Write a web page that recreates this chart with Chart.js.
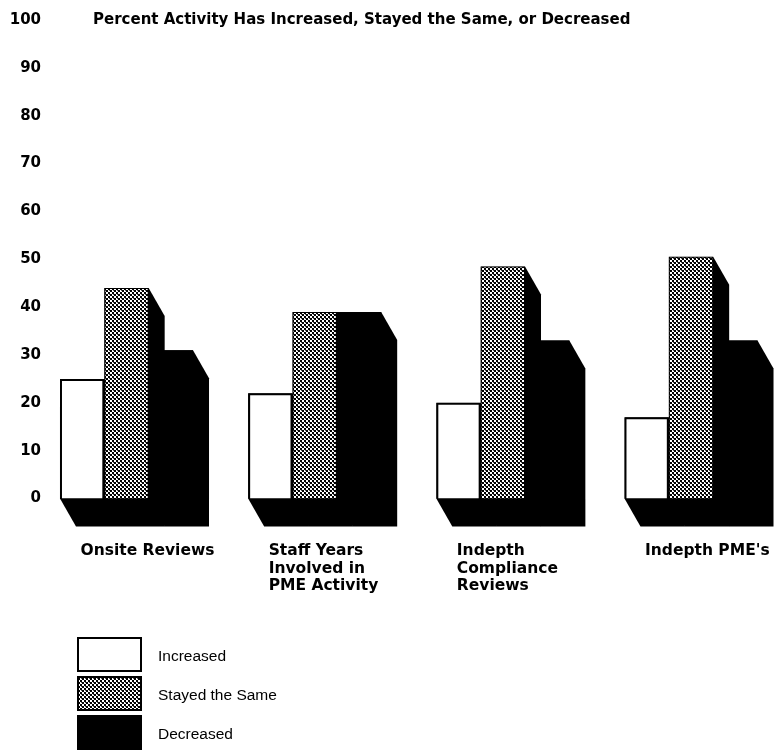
<!DOCTYPE html>
<html>
<head>
<meta charset="utf-8">
<script src="https://cdn.jsdelivr.net/npm/chart.js@4/dist/chart.umd.min.js"></script>
<style>
  html, body { margin: 0; background: #fff; }
  #wrap { width: 778px; height: 752px; }
</style>
</head>
<body>
<div id="wrap"><canvas id="chart"></canvas></div>
<script>
const categories = [
  'Onsite Reviews',
  ['Staff Years', 'Involved in', 'PME Activity'],
  ['Indepth', 'Compliance', 'Reviews'],
  "Indepth PME's"
];
const increased = [25, 22, 20, 17];
const stayedSame = [44, 39, 48.5, 50.5];
const decreased = [31, 39, 33, 33];
const yTicks = [0, 10, 20, 30, 40, 50, 60, 70, 80, 90, 100];
const chartTitle = 'Percent Activity Has Increased, Stayed the Same, or Decreased';

const BOLD = '"DejaVu Sans", Verdana, sans-serif';
const PLAIN = '"Liberation Sans", Arial, Helvetica, sans-serif';
const DEPTH_X = 16, DEPTH_Y = 28;

// halftone fill for the "stayed the same" bars
function halftone() {
  const c = document.createElement('canvas');
  c.width = 4; c.height = 4;
  const g = c.getContext('2d');
  g.fillStyle = '#fff';
  g.fillRect(0, 0, 4, 4);
  g.fillStyle = '#000';
  g.fillRect(0, 0, 2, 2);
  g.fillRect(2, 2, 2, 2);
  g.fillStyle = '#555';
  g.fillRect(1, 2, 1, 1);
  return g.createPattern(c, 'repeat');
}
const grey = halftone();

// black side/floor behind each bar
const depthPlugin = {
  id: 'depth',
  beforeDatasetsDraw(chart) {
    const ctx = chart.ctx;
    ctx.save();
    ctx.fillStyle = '#000';
    chart.data.datasets.forEach((ds, i) => {
      chart.getDatasetMeta(i).data.forEach(bar => {
        const {x, y, base, width} = bar.getProps(['x', 'y', 'base', 'width'], true);
        const l = x - width / 2, r = x + width / 2;
        ctx.beginPath();
        ctx.moveTo(l, y);
        ctx.lineTo(r, y);
        ctx.lineTo(r + DEPTH_X, y + DEPTH_Y);
        ctx.lineTo(r + DEPTH_X, base + DEPTH_Y);
        ctx.lineTo(l + DEPTH_X, base + DEPTH_Y);
        ctx.lineTo(l, base);
        ctx.closePath();
        ctx.fill();
      });
    });
    ctx.restore();
  }
};

// title on the 100 line, and the stacked legend under the chart
const textPlugin = {
  id: 'texts',
  afterDraw(chart) {
    const ctx = chart.ctx;
    const yScale = chart.scales.y;
    ctx.save();
    ctx.fillStyle = '#000';
    ctx.font = 'bold 15px ' + BOLD;
    ctx.textAlign = 'left';
    ctx.textBaseline = 'middle';
    ctx.fillText(chartTitle, 93, yScale.getPixelForValue(100));

    ctx.font = '15.5px ' + PLAIN;
    chart.data.datasets.forEach((ds, i) => {
      const top = 637 + i * 39;
      ctx.fillStyle = ds.backgroundColor;
      ctx.fillRect(77, top, 65, 35);
      ctx.strokeStyle = '#000';
      ctx.lineWidth = 2;
      ctx.strokeRect(78, top + 1, 63, 33);
      ctx.fillStyle = '#000';
      ctx.fillText(ds.label, 158, top + 20);
    });
    ctx.restore();
  }
};

new Chart(document.getElementById('chart'), {
  type: 'bar',
  data: {
    labels: categories,
    datasets: [
      {label: 'Increased', data: increased, backgroundColor: '#fff', borderColor: '#000', borderWidth: 2, clip: false},
      {label: 'Stayed the Same', data: stayedSame, backgroundColor: grey, borderColor: '#000', borderWidth: 1, clip: false},
      {label: 'Decreased', data: decreased, backgroundColor: '#000', borderColor: '#000', borderWidth: 0, clip: false}
    ]
  },
  plugins: [depthPlugin, textPlugin],
  options: {
    responsive: true,
    maintainAspectRatio: false,
    animation: false,
    layout: {padding: {top: 20, right: 87, bottom: 0, left: 0}},
    plugins: {
      legend: {display: false},
      tooltip: {enabled: false}
    },
    datasets: {
      bar: {categoryPercentage: 0.707, barPercentage: 1}
    },
    scales: {
      x: {
        offset: false,
        grid: {display: false, drawTicks: false},
        border: {display: false},
        ticks: {
          color: '#000',
          font: {family: BOLD, size: 15.5, weight: 'bold', lineHeight: '17.5px'},
          align: 'start',
          labelOffset: -46,
          padding: 44,
          maxRotation: 0,
          autoSkip: false
        },
        afterFit(scale) {
          scale.height = 253.5;
          scale.paddingLeft = 0;
          scale.paddingRight = 0;
        }
      },
      y: {
        min: 0,
        max: 100,
        afterBuildTicks(scale) { scale.ticks = yTicks.map(v => ({value: v})); },
        grid: {display: false, drawTicks: false},
        border: {display: false},
        ticks: {
          color: '#000',
          font: {family: BOLD, size: 15, weight: 'bold'},
          padding: 85.5
        },
        afterFit(scale) {
          scale.width = 126.5;
          scale.paddingTop = 0;
          scale.paddingBottom = 0;
        }
      }
    }
  }
});
</script>
</body>
</html>
